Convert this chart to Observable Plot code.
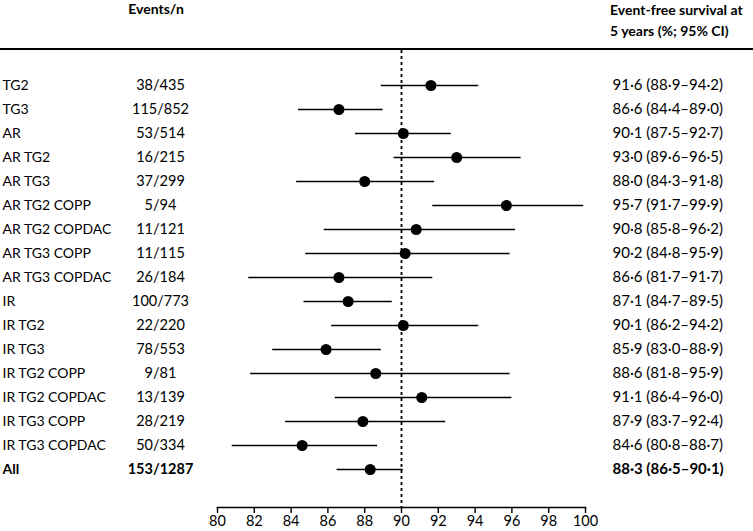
<!DOCTYPE html>
<html>
<head>
<meta charset="utf-8">
<script src="https://cdn.jsdelivr.net/npm/d3@7"></script>
<script src="https://cdn.jsdelivr.net/npm/@observablehq/plot@0.6"></script>
<style>
  body { margin: 0; background: #fff; font-family: Lato, "Open Sans", sans-serif; color: #000; }
  #wrap { width: 753px; }
  #head { position: relative; height: 48px; border-bottom: 2px solid #000; font-weight: bold; font-size: 14px; }
  #h1 { position: absolute; left: 156px; top: 0px; transform: translateX(-50%); white-space: nowrap; }
  #h2 { position: absolute; left: 610px; top: -1px; line-height: 21px; white-space: nowrap; }
  svg { display: block; }
</style>
</head>
<body>
<div id="wrap">
  <div id="head">
    <div id="h1">Events/n</div>
    <div id="h2">Event-free survival at<br>5 years (%; 95% CI)</div>
  </div>
  <div id="chart"></div>
</div>
<script>
const labels = ["TG2","TG3","AR","AR TG2","AR TG3","AR TG2 COPP","AR TG2 COPDAC","AR TG3 COPP","AR TG3 COPDAC","IR","IR TG2","IR TG3","IR TG2 COPP","IR TG2 COPDAC","IR TG3 COPP","IR TG3 COPDAC","All"];
const events = ["38/435","115/852","53/514","16/215","37/299","5/94","11/121","11/115","26/184","100/773","22/220","78/553","9/81","13/139","28/219","50/334","153/1287"];
const est = [91.6,86.6,90.1,93.0,88.0,95.7,90.8,90.2,86.6,87.1,90.1,85.9,88.6,91.1,87.9,84.6,88.3];
const lo  = [88.9,84.4,87.5,89.6,84.3,91.7,85.8,84.8,81.7,84.7,86.2,83.0,81.8,86.4,83.7,80.8,86.5];
const hi  = [94.2,89.0,92.7,96.5,91.8,99.9,96.2,95.9,91.7,89.5,94.2,88.9,95.9,96.0,92.4,88.7,90.1];
const ticks = [80,82,84,86,88,90,92,94,96,98,100];
const reference = 90;

const fmt = v => v.toFixed(1).replace(".", "·");
const rows = labels.map((label, i) => ({
  label, events: events[i], est: est[i], lo: lo[i], hi: hi[i],
  ci: `${fmt(est[i])} (${fmt(lo[i])}–${fmt(hi[i])})`,
  bold: label === "All"
}));
const normal = rows.filter(d => !d.bold);
const bold = rows.filter(d => d.bold);

function textCols(data, weight) {
  return [
    Plot.text(data, {y: "label", text: "label", frameAnchor: "left", textAnchor: "start", dx: -215, fontWeight: weight, fontSize: 14}),
    Plot.text(data, {y: "label", text: "events", frameAnchor: "left", textAnchor: "middle", dx: -57, fontWeight: weight, fontSize: 14.5}),
    Plot.text(data, {y: "label", text: "ci", frameAnchor: "right", textAnchor: "start", dx: 27, fontWeight: weight, fontSize: 15})
  ];
}

const chart = Plot.plot({
  width: 753,
  height: 481,
  marginLeft: 217,
  marginRight: 168,
  marginTop: 0,
  marginBottom: 24,
  style: {fontFamily: "Lato, 'Open Sans', sans-serif", fontSize: "14px", color: "#000", background: "#fff", overflow: "visible"},
  x: {domain: [80, 100]},
  y: {type: "point", domain: labels, insetTop: 18, insetBottom: 21, axis: null},
  marks: [
    Plot.ruleX([reference], {strokeDasharray: "3,3", strokeWidth: 1.8, stroke: "#000"}),
    Plot.frame({anchor: "bottom", strokeWidth: 1.6, stroke: "#000"}),
    Plot.axisX({ticks, tickSize: 6, tickPadding: 2, fontSize: 14.5, tickFormat: d => String(d), label: null, strokeWidth: 1.4}),
    Plot.ruleY(rows, {y: "label", x1: "lo", x2: "hi", strokeWidth: 1.7, stroke: "#000"}),
    Plot.dot(rows, {x: "est", y: "label", r: 5.5, fill: "#000", stroke: null}),
    ...textCols(normal, "normal"),
    ...textCols(bold, "bold")
  ]
});
document.getElementById("chart").appendChild(chart);
</script>
</body>
</html>
